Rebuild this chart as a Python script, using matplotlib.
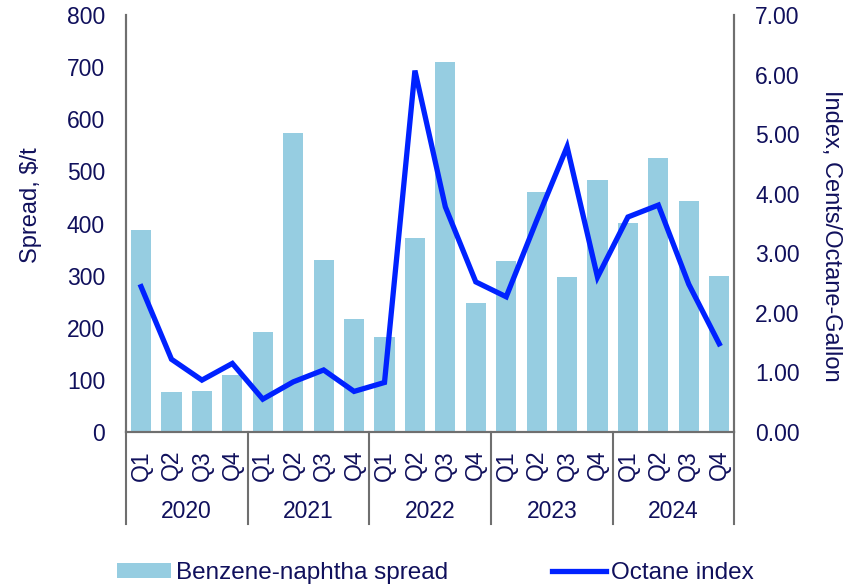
import matplotlib.pyplot as plt
from matplotlib.lines import Line2D
import numpy as np

plt.rcParams['font.family'] = ['Liberation Sans', 'DejaVu Sans']

years = ['2020', '2021', '2022', '2023', '2024']
quarters = ['Q1', 'Q2', 'Q3', 'Q4']

# Benzene-naphtha spread, $/t
spread = [388, 77, 78, 109,
          192, 574, 330, 217,
          182, 372, 710, 248,
          328, 461, 297, 483,
          401, 526, 444, 300]

# Octane index, cents/octane-gallon
octane = [2.44, 1.22, 0.87, 1.15,
          0.55, 0.84, 1.04, 0.68,
          0.83, 6.07, 3.78, 2.52,
          2.27, 3.55, 4.79, 2.60,
          3.61, 3.81, 2.48, 1.48]

text_col = '#10105c'
bar_col = '#96cde1'
line_col = '#0022ff'
spine_col = '#6f6f6f'

fig = plt.figure(figsize=(8.62, 5.86), dpi=100)
ax = fig.add_axes([0.146, 0.263, 0.706, 0.711])
ax2 = ax.twinx()

x = np.arange(len(spread))
ax.bar(x, spread, width=0.66, color=bar_col, zorder=1, label='Benzene-naphtha spread')
ax2.plot(x, octane, color=line_col, lw=3.8, solid_joinstyle='miter', label='Octane index')

ax.set_xlim(-0.5, len(spread) - 0.5)
ax.set_ylim(0, 800)
ax2.set_ylim(0, 7)
ax.set_yticks(np.arange(0, 801, 100))
ax2.set_yticks(np.arange(0, 7.01, 1))
ax2.set_yticklabels([f'{v:.2f}' for v in np.arange(0, 7.01, 1)])

ax.set_xticks(x)
ax.set_xticklabels(quarters * len(years), rotation=90)

for a in (ax, ax2):
    a.spines['top'].set_visible(False)
    for s in ('left', 'right', 'bottom'):
        a.spines[s].set_color(spine_col)
        a.spines[s].set_linewidth(1.5)
    a.tick_params(axis='both', length=0, labelsize=16.5, colors=text_col)
ax.tick_params(axis='y', pad=15)
ax2.tick_params(axis='y', pad=15)
ax.tick_params(axis='x', pad=13)

ax.set_ylabel('Spread, $/t', fontsize=17, color=text_col, labelpad=18, y=0.545)
ax2.set_ylabel('Index, Cents/Octane-Gallon', fontsize=17, color=text_col,
               rotation=270, labelpad=30, y=0.47)

# year groups under the quarter labels
for i, yr in enumerate(years):
    ax.text(i * 4 + 1.5, -0.19, yr, transform=ax.get_xaxis_transform(),
            ha='center', va='center', fontsize=16.5, color=text_col)
for i in range(len(years) + 1):
    xs = i * 4 - 0.5
    ax.add_line(Line2D([xs, xs], [0, -0.22], transform=ax.get_xaxis_transform(),
                       color=spine_col, lw=1.5, clip_on=False))

h1, l1 = ax.get_legend_handles_labels()
h2, l2 = ax2.get_legend_handles_labels()
fig.legend(h1 + h2, l1 + l2, loc='center', bbox_to_anchor=(0.505, 0.022), ncol=2,
           frameon=False, fontsize=17.5, labelcolor=text_col, handlelength=2.2,
           handleheight=0.55, handletextpad=0.2, columnspacing=4.3)

fig.savefig('out.png', dpi=100)
